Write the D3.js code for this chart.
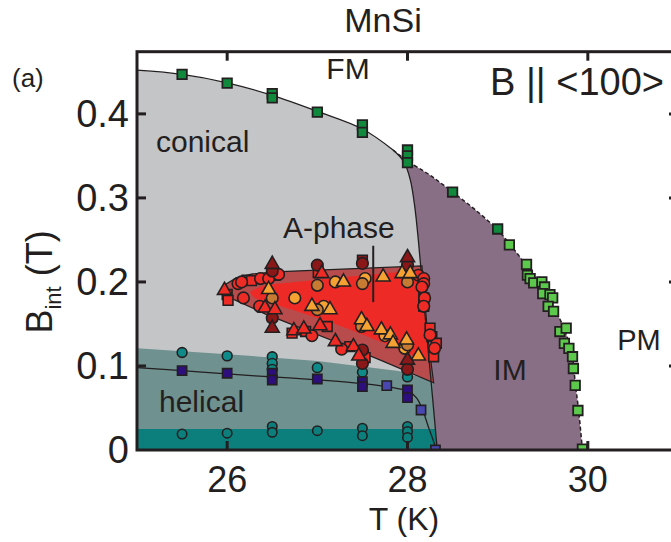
<!DOCTYPE html>
<html>
<head>
<meta charset="utf-8">
<script src="https://cdn.jsdelivr.net/npm/d3@7"></script>
<style>
html,body{margin:0;padding:0;background:#fff;}
svg{display:block;}
text{font-family:"Liberation Sans",Arial,Helvetica,sans-serif;fill:#231f20;}
</style>
</head>
<body>
<svg id="chart" width="671" height="542"></svg>
<script>
// ---------------- data ----------------
const tempTicks = [26, 28, 30];
const fieldTicks = [0, 0.1, 0.2, 0.3, 0.4];
const fieldTickLabels = ["0", "0.1", "0.2", "0.3", "0.4"];

// phase boundaries (T in K, B in T)
const bc2Upper = [[25.0,0.452],[25.5,0.447],[26.0,0.437],[26.5,0.422],[27.0,0.403],[27.5,0.382],[27.84,0.357]];
const conicalImLine = [[27.84,0.357],[27.96,0.343],[28.03,0.322],[28.08,0.29],[28.12,0.25],[28.17,0.19],[28.22,0.13],[28.28,0.06],[28.33,0]];
const imFmLine = [[27.84,0.357],[28.0,0.344],[28.25,0.327],[28.5,0.307],[28.75,0.286],[29.0,0.262],[29.15,0.243],[29.3,0.222],[29.45,0.2],[29.58,0.178],[29.68,0.158],[29.76,0.138],[29.83,0.11],[29.86,0.08],[29.9,0.045],[29.94,0]];
const helicalTop = [[25.0,0.121],[26.0,0.114],[27.0,0.106],[27.9,0.094],[28.28,0.082]];
const bandTop = 0.025;
const bc1Line = [[25.0,0.098],[25.5,0.0944],[26.0,0.0905],[26.5,0.087],[27.0,0.0835],[27.5,0.079],[27.8,0.075],[28.0,0.07],[28.1,0.062],[28.17,0.047],[28.23,0.028],[28.29,0.01],[28.32,0]];
const aPhaseOuter = [[25.945,0.187],[25.99,0.1976],[26.10,0.2048],[26.28,0.2095],[26.53,0.212],[28.16,0.219],[28.19,0.18],[28.23,0.13],[28.29,0.08],[27.70,0.107],[27.29,0.125],[26.75,0.148],[26.42,0.162],[26.14,0.176],[25.99,0.183]];
const aPhaseInner = [[26.255,0.188],[26.39,0.195],[26.67,0.199],[28.14,0.213],[28.18,0.179],[28.22,0.131],[28.25,0.105],[27.70,0.129],[27.25,0.148],[26.81,0.164],[26.48,0.175],[26.31,0.181]];
const aPhasePointer = [[27.62,0.243],[27.62,0.176]];

// measured points
const greenDark = [[25.5,0.447],[26.0,0.4365],[26.5,0.424],[26.5,0.419],[27.0,0.402],[27.5,0.387],[27.5,0.378],[28.0,0.357],[28.0,0.350],[28.0,0.342],[28.5,0.307],[29.0,0.263]];
const greenLight = [[29.13,0.244],[29.32,0.221],[29.33,0.208],[29.36,0.204],[29.40,0.199],[29.49,0.200],[29.52,0.194],[29.50,0.186],[29.58,0.185],[29.61,0.181],[29.56,0.171],[29.62,0.165],[29.69,0.141],[29.76,0.145],[29.74,0.127],[29.79,0.121],[29.83,0.111],[29.84,0.097],[29.86,0.077],[29.89,0.047],[29.94,0.001]];
const tealUpper = [[25.5,0.116],[26.0,0.112],[26.5,0.111],[26.5,0.103],[26.5,0.096],[27.0,0.098],[27.5,0.0925],[28.0,0.087]];
const tealLower = [[25.5,0.019],[26.0,0.020],[26.5,0.028],[26.5,0.021],[27.0,0.023],[27.5,0.026],[27.5,0.017],[28.0,0.028],[28.0,0.022],[28.0,0.015]];
const blueDark = [[25.5,0.0944],[26.0,0.0913],[26.5,0.0913],[26.5,0.0833],[27.0,0.0845],[27.5,0.0813],[27.5,0.0754],[28.0,0.0714],[28.0,0.0623]];
const blueLight = [[27.77,0.0766],[28.15,0.0476],[28.31,0.0]];

// A-phase markers: [T, B, colour key]
const aSquares = [[26.00,0.185,'r'],[26.01,0.178,'r'],[26.22,0.202,'r'],[26.27,0.2015,'r'],[26.53,0.208,'r'],[27.01,0.211,'r'],[27.50,0.226,'d'],
  [28.18,0.181,'r'],[28.18,0.171,'r'],[28.25,0.145,'r'],[28.27,0.135,'r'],[28.32,0.127,'r'],[28.29,0.111,'r'],
  [26.72,0.139,'r'],[26.87,0.141,'r'],[27.11,0.147,'r'],[27.36,0.123,'r'],[27.51,0.113,'r'],[27.53,0.110,'r']];
const aCircles = [[26.12,0.198,'r'],[26.16,0.200,'r'],[26.18,0.181,'r'],[26.37,0.204,'r'],[26.46,0.204,'r'],[26.57,0.209,'r'],
  [26.50,0.213,'d'],[26.50,0.181,'b'],[26.36,0.171,'r'],[26.50,0.157,'d'],[26.75,0.181,'o'],
  [27.00,0.220,'d'],[27.00,0.196,'b'],[27.20,0.200,'o'],[27.07,0.171,'o'],[27.00,0.167,'b'],[26.94,0.136,'r'],
  [27.50,0.222,'d'],[27.53,0.204,'o'],[27.50,0.198,'b'],[27.49,0.147,'b'],[27.27,0.120,'r'],[27.50,0.119,'d'],[27.50,0.103,'d'],
  [28.00,0.220,'d'],[28.00,0.200,'b'],[28.12,0.208,'r'],[28.18,0.204,'r'],[28.18,0.198,'r'],[28.16,0.194,'r'],[28.19,0.181,'r'],[28.18,0.171,'r'],
  [28.25,0.137,'r'],[28.30,0.121,'r'],[27.75,0.136,'o'],[27.97,0.121,'o'],[28.00,0.125,'b'],[28.00,0.096,'d']];
const aTriangles = [[25.97,0.190,'r'],[26.50,0.221,'d'],[26.46,0.191,'o'],[26.42,0.169,'r'],[26.53,0.167,'r'],[26.50,0.145,'d'],
  [27.05,0.210,'r'],[26.94,0.171,'o'],[27.14,0.167,'o'],[27.29,0.200,'o'],[27.73,0.206,'o'],
  [28.00,0.229,'d'],[27.94,0.210,'o'],[28.03,0.210,'o'],
  [27.49,0.155,'o'],[27.55,0.147,'o'],[27.71,0.143,'o'],[27.81,0.137,'o'],[27.84,0.127,'o'],[27.99,0.131,'o'],[28.12,0.112,'o'],
  [26.74,0.142,'r'],[26.85,0.144,'r'],[27.03,0.148,'r'],[27.20,0.129,'r'],[27.40,0.123,'r'],[27.46,0.112,'r'],[28.00,0.107,'d']];

// ---------------- drawing ----------------
const colors = {
  conical:"#c4c5c7", helical:"#6f918f", band:"#0c7f7c", im:"#896f85",
  aOuter:"#b84c4c", aInner:"#ee2a26", ink:"#231f20",
  r:"#ee2b24", o:"#f5a233", b:"#c67a32", d:"#8a1818",
  greenDark:"#10893c", greenLight:"#5cc84c", blueDark:"#2c0f7c", blueLight:"#4848b0", teal:"#0e8b89"
};

const svg = d3.select("#chart");
const x = d3.scaleLinear().domain([25, 31]).range([137, 678]);
const y = d3.scaleLinear().domain([0, 0.474]).range([450, 51.7]);
const line = d3.line().x(d => x(d[0])).y(d => y(d[1]));
const smooth = d3.line().x(d => x(d[0])).y(d => y(d[1])).curve(d3.curveCatmullRom.alpha(0.5));

const plot = svg.append("g");
svg.append("clipPath").attr("id","clip").append("rect")
  .attr("x", x(25)).attr("y", y(0.474)).attr("width", x(31)-x(25)).attr("height", y(0)-y(0.474));
plot.attr("clip-path","url(#clip)");

// regions
const conicalPoly = [[25,0]].concat(bc2Upper, conicalImLine.slice(1));
plot.append("path").attr("d", line(conicalPoly) + "Z").attr("fill", colors.conical);

const imPoly = imFmLine.concat(conicalImLine.slice().reverse());
plot.append("path").attr("d", line(imPoly) + "Z").attr("fill", colors.im);

const lineTAt = b => {
  for (let i = 0; i < conicalImLine.length - 1; i++) {
    const [t0,b0] = conicalImLine[i], [t1,b1] = conicalImLine[i+1];
    if (b <= b0 && b >= b1) return t0 + (t1-t0)*(b0-b)/(b0-b1);
  }
  return conicalImLine[conicalImLine.length-1][0];
};
const helPoly = [[25,0]].concat(helicalTop, conicalImLine.filter(p => p[1] < 0.082));
plot.append("path").attr("d", line(helPoly) + "Z").attr("fill", colors.helical);
const bandPoly = [[25,0],[25,bandTop],[lineTAt(bandTop),bandTop]].concat(conicalImLine.filter(p => p[1] < bandTop));
plot.append("path").attr("d", line(bandPoly) + "Z").attr("fill", colors.band);

// A-phase
plot.append("path").attr("d", line(aPhaseOuter) + "Z").attr("fill", colors.aOuter)
  .attr("stroke", colors.ink).attr("stroke-width", 1.2);
plot.append("path").attr("d", d3.line().x(d=>x(d[0])).y(d=>y(d[1])).curve(d3.curveCardinalClosed.tension(0.6))(aPhaseInner))
  .attr("fill", colors.aInner);

// lines
plot.append("path").attr("d", smooth(bc2Upper)).attr("fill","none").attr("stroke",colors.ink).attr("stroke-width",1.3);
plot.append("path").attr("d", smooth(conicalImLine)).attr("fill","none").attr("stroke",colors.ink).attr("stroke-width",1.3);
plot.append("path").attr("d", smooth(imFmLine)).attr("fill","none").attr("stroke",colors.ink).attr("stroke-width",1.5).attr("stroke-dasharray","4,2.5");
plot.append("path").attr("d", smooth(bc1Line)).attr("fill","none").attr("stroke",colors.ink).attr("stroke-width",1.3);

// markers
function markers(data, type, size, fillFn, sw) {
  plot.append("g").selectAll("path").data(data).join("path")
    .attr("transform", d => `translate(${x(d[0])},${y(d[1])})`)
    .attr("d", d3.symbol().type(type).size(size))
    .attr("fill", fillFn)
    .attr("stroke", colors.ink).attr("stroke-width", sw || 1.6);
}
markers(tealLower, d3.symbolCircle, 70, () => colors.band, 1.6);
markers(tealUpper, d3.symbolCircle, 75, () => colors.teal, 1.6);
markers(blueDark, d3.symbolSquare, 85, () => colors.blueDark, 1.6);
markers(blueLight, d3.symbolSquare, 85, () => colors.blueLight, 1.6);
markers(aSquares, d3.symbolSquare, 95, d => colors[d[2]], 1.6);
markers(aCircles, d3.symbolCircle, 105, d => colors[d[2]], 1.6);
markers(aTriangles, d3.symbolTriangle, 85, d => colors[d[2]], 1.6);
markers(greenDark, d3.symbolSquare, 90, () => colors.greenDark, 1.8);
markers(greenLight, d3.symbolSquare, 90, () => colors.greenLight, 1.8);

// pointer line for A-phase label
plot.append("path").attr("d", line(aPhasePointer)).attr("stroke", colors.ink).attr("stroke-width", 2);

// frame and ticks
const axG = svg.append("g");
axG.append("rect").attr("x", x(25)).attr("y", y(0.474)).attr("width", x(31)-x(25)).attr("height", y(0)-y(0.474))
  .attr("fill","none").attr("stroke", colors.ink).attr("stroke-width", 3);
const tl = 9;
tempTicks.forEach(t => {
  axG.append("line").attr("x1", x(t)).attr("x2", x(t)).attr("y1", y(0)).attr("y2", y(0)-tl).attr("stroke",colors.ink).attr("stroke-width",3);
  axG.append("line").attr("x1", x(t)).attr("x2", x(t)).attr("y1", y(0.474)).attr("y2", y(0.474)+tl).attr("stroke",colors.ink).attr("stroke-width",3);
});
fieldTicks.slice(1).forEach(b => {
  axG.append("line").attr("x1", x(25)).attr("x2", x(25)+tl).attr("y1", y(b)).attr("y2", y(b)).attr("stroke",colors.ink).attr("stroke-width",3);
  axG.append("line").attr("x1", x(31)).attr("x2", x(31)-tl).attr("y1", y(b)).attr("y2", y(b)).attr("stroke",colors.ink).attr("stroke-width",3);
});

// tick labels
svg.append("g").selectAll("text").data(tempTicks).join("text")
  .attr("x", d => x(d)).attr("y", 492).attr("text-anchor","middle").attr("font-size", 36).text(d => d);
svg.append("g").selectAll("text").data(fieldTicks).join("text")
  .attr("x", 129).attr("y", d => y(d) + 13).attr("text-anchor","end").attr("font-size", 38)
  .text((d,i) => fieldTickLabels[i]);

// axis titles
svg.append("text").attr("x", 404).attr("y", 530).attr("text-anchor","middle").attr("font-size", 32).text("T (K)");
const yl = svg.append("text").attr("transform","translate(52,282) rotate(-90)").attr("text-anchor","middle").attr("font-size", 36);
yl.append("tspan").text("B");
yl.append("tspan").attr("font-size", 22).attr("dy", 9).text("int");
yl.append("tspan").attr("dy", -9).text(" (T)");

// annotations
svg.append("text").attr("x", 383).attr("y", 32).attr("text-anchor","middle").attr("font-size", 34).text("MnSi");
svg.append("text").attr("x", 12).attr("y", 87).attr("font-size", 26).text("(a)");
svg.append("text").attr("x", 348).attr("y", 79).attr("text-anchor","middle").attr("font-size", 30).text("FM");
svg.append("text").attr("x", 664).attr("y", 95).attr("text-anchor","end").attr("font-size", 38).text("B || <100>");
svg.append("text").attr("x", 156).attr("y", 152).attr("font-size", 30).text("conical");
svg.append("text").attr("x", 283).attr("y", 238).attr("font-size", 30).text("A-phase");
svg.append("text").attr("x", 159).attr("y", 412).attr("font-size", 30).text("helical");
svg.append("text").attr("x", 510).attr("y", 380).attr("text-anchor","middle").attr("font-size", 30).text("IM");
svg.append("text").attr("x", 639).attr("y", 350).attr("text-anchor","middle").attr("font-size", 29).text("PM");
</script>
</body>
</html>
